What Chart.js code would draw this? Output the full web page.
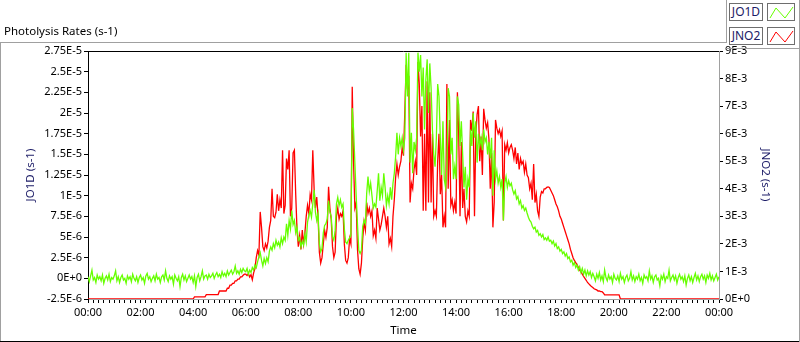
<!DOCTYPE html>
<html><head><meta charset="utf-8">
<script src="https://cdn.jsdelivr.net/npm/chart.js@4/dist/chart.umd.min.js"></script>
<style>
html,body{margin:0;padding:0;background:#fff;}
#wrap{position:relative;width:800px;height:342px;overflow:hidden;font-family:"Noto Sans",sans-serif;}
#c{position:absolute;left:0;top:0;}
.ln{position:absolute;background:#a0a0a0;}
#title{position:absolute;left:4px;top:24px;font-size:11.5px;line-height:14px;color:#000;white-space:nowrap;}
.lbox{position:absolute;box-sizing:border-box;border:1px solid #6e6e6e;background:#fff;font-size:12px;line-height:16px;text-align:center;color:#1b1b66;}
.ibox{position:absolute;box-sizing:border-box;border:1px solid #6e6e6e;background:#fff;}
</style></head><body>
<div id="wrap">
  <canvas id="c" width="800" height="342"></canvas>
  <div class="ln" style="left:0;top:42px;width:726px;height:1px"></div>
  <div class="ln" style="left:0;top:42px;width:1px;height:300px"></div>
  <div class="ln" style="left:0;top:341px;width:799px;height:1px;background:#000"></div>
  <div class="ln" style="left:726px;top:0;width:1px;height:43px"></div>
  <div class="ln" style="left:799px;top:0;width:1px;height:342px"></div>
  <div class="ln" style="left:726px;top:48px;width:74px;height:1px"></div>
  <div id="title">Photolysis Rates (s-1)</div>
  <div class="lbox" style="left:729px;top:3px;width:34px;height:18px">JO1D</div>
  <div class="ibox" style="left:767px;top:3px;width:28px;height:18px"><svg width="26" height="16" style="position:absolute;left:0;top:0"><polyline points="2,14 8,4 17,14 25,3" fill="none" stroke="#66ff00" stroke-width="1"/></svg></div>
  <div class="lbox" style="left:729px;top:27px;width:34px;height:18px">JNO2</div>
  <div class="ibox" style="left:767px;top:27px;width:28px;height:18px"><svg width="26" height="16" style="position:absolute;left:0;top:0"><polyline points="2,14 8,4 17,14 25,3" fill="none" stroke="#ff0000" stroke-width="1"/></svg></div>
</div>
<script>
// sampling interval of both series, minutes from 00:00 (values run 00:00 .. 24:00)
const STEP_MIN = 3;
// JO1D photolysis rate, in units of 1e-6 s-1
const JO1D_UNIT = 1e-6;
const jo1d = [
// 00:00
0.2,-0.4,0.3,1.0,-0.2,0.1,-0.5,0.4,-0.1,0.2,
-0.3,0.4,-0.6,0.0,0.3,-0.2,0.5,-0.4,0.1,-0.1,
0.3,0.9,-0.3,0.2,-0.5,0.1,0.4,-0.2,0.0,-0.6,
0.3,-0.1,0.2,-0.4,0.5,0.0,-0.3,0.2,-0.5,0.1,
0.4,-0.2,0.1,-0.6,0.3,0.6,-0.1,0.2,-0.4,0.0,
0.3,-0.3,0.5,-0.1,0.1,-0.5,0.2,0.4,-0.2,0.9,
0.0,-0.4,0.3,-0.1,0.2,-0.7,0.4,0.0,-0.3,0.2,
-1.0,0.1,0.5,-0.2,0.3,-0.4,0.0,0.4,-0.1,0.2,
-0.5,0.3,-1.0,0.1,0.5,-0.3,0.2,0.9,-0.1,0.3,
// 04:30
0.4,-0.1,0.5,0.1,0.3,0.6,0.0,0.4,0.7,0.2,
0.5,0.1,0.8,0.3,0.6,0.2,0.9,0.4,0.7,1.0,
0.5,0.8,1.5,0.6,0.9,0.5,1.1,0.7,1.2,0.9,
// 06:00
0.8,1.2,0.5,1.0,0.7,1.3,1.0,1.6,1.3,2.0,
2.6,3.1,2.2,1.5,2.4,1.8,2.5,2.0,3.3,3.8,
3.4,4.2,3.7,4.6,4.0,4.4,3.8,4.9,4.2,5.0,
4.6,6.6,5.2,7.0,6.0,8.2,6.5,7.0,5.5,6.2,
4.6,4.9,3.8,4.5,4.0,5.4,4.4,6.8,7.6,8.2,
7.4,9.0,10.7,8.0,7.0,7.8,4.2,3.2,3.6,5.5,
6.4,
// 09:03
6.6,7.2,9.4,8.0,7.5,5.0,4.6,5.8,9.0,9.8,
8.8,9.5,8.6,9.0,6.0,4.4,4.2,4.6,4.9,5.2,
20.6,18.0,14.0,10.0,6.5,3.4,3.0,3.4,6.3,7.0,
6.6,10.3,12.3,10.5,11.5,10.0,8.5,9.0,8.6,10.6,
12.7,9.4,11.0,10.0,12.7,11.0,8.8,10.0,9.0,11.0,
9.5,11.5,12.7,14.7,17.6,15.0,17.0,16.0,17.0,15.5,
// 12:03
17.0,27.3,22.0,27.3,14.0,17.6,12.7,16.5,15.5,17.0,
27.3,25.0,27.0,22.0,25.5,18.0,24.0,26.5,20.0,26.0,
23.0,18.0,15.0,13.5,17.0,23.5,22.0,17.0,12.5,19.0,
12.0,11.0,13.0,23.0,22.0,15.0,17.0,12.0,13.5,12.0,
22.0,21.0,16.0,19.0,15.0,11.0,13.5,9.5,12.0,11.0,
18.0,16.0,20.0,17.0,19.0,14.0,17.5,16.0,17.0,15.5,
18.0,16.5,17.0,15.0,16.5,14.5,17.0,10.0,15.5,12.0,
// 15:33
13.0,11.5,12.3,11.0,12.0,7.0,11.5,12.3,11.0,11.8,
11.2,11.5,10.7,10.2,10.6,9.6,9.9,9.0,9.4,8.5,
8.8,8.2,8.5,7.9,7.4,7.0,6.8,6.3,6.0,6.2,
5.6,5.8,5.2,5.4,5.0,5.3,4.7,4.9,4.6,5.0,
4.5,4.6,4.2,4.5,3.9,4.2,3.6,3.8,3.3,3.5,
3.0,3.2,2.7,3.0,2.4,2.6,2.0,2.2,1.6,1.9,
1.3,1.6,1.0,1.4,0.7,1.2,0.5,1.0,0.3,0.9,
0.4,0.8,0.1,0.6,
// 19:15
0.2,-0.3,0.5,0.0,0.7,-0.2,0.3,-0.4,1.0,0.1,
-0.3,0.4,-0.1,0.2,-0.5,0.5,0.0,-0.2,0.3,-0.4,
0.6,-0.1,0.2,-0.5,0.1,0.4,-0.3,0.0,0.8,-0.2,
0.3,-0.4,0.2,-0.1,0.5,-0.3,0.1,-0.6,0.4,0.0,
0.2,-0.3,0.9,-0.1,0.3,-0.5,0.2,0.4,-0.2,0.0,
-0.9,0.3,-0.1,0.5,-0.4,0.2,0.0,1.0,-0.3,0.1,
0.4,-0.2,0.3,-0.6,0.1,0.5,-0.1,0.2,-0.4,0.3,
-0.8,0.0,0.4,-0.3,0.2,-0.5,0.1,0.6,-0.2,0.3,
-0.4,0.2,0.5,-0.1,0.3,-0.5,0.4,0.0,0.6,-0.2,
0.3,-0.3,0.1,0.5,-0.2,0.2
];
// JNO2 photolysis rate, in units of 1e-3 s-1
const JNO2_UNIT = 1e-3;
const jno2 = [
// 00:00
0,0,0,0,0,0,0,0,0,0,
0,0,0,0,0,0,0,0,0,0,
0,0,0,0,0,0,0,0,0,0,
0,0,0,0,0,0,0,0,0,0,
0,0,0,0,0,0,0,0,0,0,
0,0,0,0,0,0,0,0,0,0,
0,0,0,0,0,0,0,0,0,0,
0,0,0,0,0,0,0,0,0,0,
0,
// 04:03
0.08,0.08,0.08,0.08,0.08,0.08,0.08,0.08,0.08,
0.16,0.16,0.16,0.16,0.16,0.16,0.16,0.16,0.16,0.16,
// 05:00
0.29,0.29,0.29,0.29,0.29,0.29,0.39,0.39,0.5,0.5,
0.57,0.57,0.66,0.66,0.72,0.72,0.8,0.8,0.86,0.9,
// 06:00
0.9,0.85,0.92,0.8,0.88,0.7,0.95,1.1,1.5,1.76,
1.6,3.16,2.6,1.9,1.76,2.0,1.85,2.1,2.6,2.85,
4.0,3.0,2.95,3.15,3.8,3.2,3.6,3.3,5.4,3.1,
3.4,5.1,4.7,5.4,3.0,3.3,5.3,5.4,3.8,2.5,
1.9,2.3,1.8,2.5,2.0,2.4,3.0,3.4,3.1,3.8,
3.6,5.4,4.0,3.3,3.7,3.0,1.7,1.3,1.5,2.0,
2.5,
// 09:03
2.24,2.6,4.07,3.3,2.9,1.9,1.5,1.7,3.0,3.3,
2.9,3.1,3.0,3.2,2.0,1.4,1.3,1.5,2.2,2.0,
7.7,5.0,3.3,3.5,1.8,1.1,0.9,1.3,2.2,2.8,
2.5,3.5,3.1,3.3,3.0,3.2,2.3,2.5,2.2,3.3,
2.9,2.5,2.7,3.0,3.3,3.0,2.6,3.0,2.0,2.2,
1.9,3.0,3.6,4.4,4.9,4.5,4.8,5.0,5.5,5.2,
// 12:03
6.8,8.5,7.6,8.1,3.5,4.2,4.0,4.7,5.0,4.5,
8.6,7.8,5.9,7.0,3.2,6.0,3.2,7.9,3.5,7.5,
3.5,6.0,3.0,3.2,3.0,5.0,6.0,3.8,4.5,2.6,
3.0,2.6,7.8,4.0,6.5,3.4,3.6,3.2,3.5,3.1,
7.5,6.0,3.0,5.7,3.3,4.0,3.0,2.8,3.2,3.0,
6.5,6.1,6.8,3.0,6.0,6.7,7.0,5.0,5.9,4.5,
6.9,6.5,6.2,6.4,5.8,4.0,5.3,2.6,3.5,6.5,
// 15:33
6.2,6.0,6.15,5.9,6.1,2.85,5.6,5.4,5.67,5.3,
5.5,5.6,5.4,5.1,5.5,4.9,5.3,4.7,5.1,4.9,
5.0,4.6,4.9,4.5,4.4,4.0,4.2,3.6,4.9,3.5,
3.8,3.2,3.0,3.7,3.9,3.85,4.0,4.0,4.05,4.07,
4.05,3.95,3.85,3.75,3.6,3.45,3.35,3.2,3.0,2.9,
2.75,2.6,2.45,2.3,2.15,2.0,1.8,1.65,1.5,1.4,
1.32,1.25,1.15,1.05,0.98,0.9,0.82,0.75,0.68,0.6,
0.55,0.5,0.45,0.42,0.37,0.35,0.33,0.29,0.29,0.27,
0.27,0.22,
// 19:39
0.15,0.15,0.15,0.15,0.15,0.15,0.15,0.15,0.15,0.15,0.15,0.15,
// 20:15
0,0,0,0,0,0,0,0,0,0,
0,0,0,0,0,0,0,0,0,0,
0,0,0,0,0,0,0,0,0,0,
0,0,0,0,0,0,0,0,0,0,
0,0,0,0,0,0,0,0,0,0,
0,0,0,0,0,0,0,0,0,0,
0,0,0,0,0,0,0,0,0,0,
0,0,0,0,0,0
];
// axis tick labels
const timeTickLabels = ['00:00','02:00','04:00','06:00','08:00','10:00','12:00','14:00','16:00','18:00','20:00','22:00','00:00'];
const TIME_MINOR_STEP = 12; // minutes between minor ticks
const jo1dTickLabels = ['-2.5E-6','0E+0','2.5E-6','5E-6','7.5E-6','1E-5','1.25E-5','1.5E-5','1.75E-5','2E-5','2.25E-5','2.5E-5','2.75E-5'];
const jno2TickLabels = ['0E+0','1E-3','2E-3','3E-3','4E-3','5E-3','6E-3','7E-3','8E-3','9E-3'];

const FONT = '"Noto Sans", sans-serif';
const jo1dTickValues = jo1dTickLabels.map(Number);
const jno2TickValues = jno2TickLabels.map(Number);
const timeMax = (timeTickLabels.length - 1) * 120;

const framePlugin = {
  id: 'frame',
  afterDraw(chart) {
    const {ctx, chartArea: a} = chart;
    ctx.save();
    ctx.strokeStyle = '#000';
    ctx.lineWidth = 1;
    ctx.beginPath();
    ctx.moveTo(a.left, Math.round(a.top) + 0.5);
    ctx.lineTo(a.right, Math.round(a.top) + 0.5);
    ctx.stroke();
    ctx.restore();
  }
};

new Chart(document.getElementById('c'), {
  type: 'line',
  data: {
    datasets: [
      {label: 'JO1D', data: jo1d.map((v, i) => ({x: i * STEP_MIN, y: v * JO1D_UNIT})), yAxisID: 'yL',
       borderColor: '#66ff00', borderWidth: 1.3, pointRadius: 0, fill: false, tension: 0},
      {label: 'JNO2', data: jno2.map((v, i) => ({x: i * STEP_MIN, y: v * JNO2_UNIT})), yAxisID: 'yR',
       borderColor: '#ff0000', borderWidth: 1.3, pointRadius: 0, fill: false, tension: 0}
    ]
  },
  options: {
    responsive: false,
    animation: false,
    events: [],
    layout: {padding: {top: 51, left: 0, right: 0, bottom: 0}},
    plugins: {legend: {display: false}, tooltip: {enabled: false}},
    scales: {
      x: {
        type: 'linear', min: 0, max: timeMax,
        afterBuildTicks: s => {
          const t = [];
          for (let m = 0; m <= timeMax; m += TIME_MINOR_STEP) t.push({value: m});
          s.ticks = t;
        },
        afterFit: s => { s.height = 43; },
        grid: {drawOnChartArea: false, drawTicks: true, tickLength: 4, color: '#000'},
        border: {display: true, color: '#a0a0a0', width: 1},
        ticks: {autoSkip: false, maxRotation: 0, padding: 3, color: '#000', font: {family: FONT, size: 11},
          callback: v => (v % 120 === 0 ? timeTickLabels[v / 120] : '')},
        title: {display: true, text: 'Time', color: '#000', font: {family: FONT, size: 11.5}, padding: {top: 0, bottom: 4}}
      },
      yL: {
        position: 'left', min: jo1dTickValues[0], max: jo1dTickValues[jo1dTickValues.length - 1],
        afterBuildTicks: s => { s.ticks = jo1dTickValues.map(v => ({value: v})); },
        afterFit: s => { s.width = 88; },
        grid: {drawOnChartArea: false, drawTicks: true, tickLength: 4, color: '#000'},
        border: {display: true, color: '#000', width: 1},
        ticks: {padding: 2, color: '#000', font: {family: FONT, size: 11}, callback: (v, i) => jo1dTickLabels[i]},
        title: {display: true, text: 'JO1D (s-1)', color: '#1b1b66', font: {family: FONT, size: 11.5}, padding: {top: 24, bottom: 0}}
      },
      yR: {
        position: 'right', min: 0, max: jno2TickValues[jno2TickValues.length - 1],
        afterBuildTicks: s => { s.ticks = jno2TickValues.map(v => ({value: v})); },
        afterFit: s => { s.width = 81; },
        grid: {drawOnChartArea: false, drawTicks: true, tickLength: 4, color: '#000'},
        border: {display: true, color: '#a0a0a0', width: 1},
        ticks: {padding: 2, color: '#000', font: {family: FONT, size: 11}, callback: (v, i) => jno2TickLabels[i]},
        title: {display: true, text: 'JNO2 (s-1)', color: '#1b1b66', font: {family: FONT, size: 11.5}, padding: {top: 28, bottom: 0}}
      }
    }
  },
  plugins: [framePlugin]
});
</script>
</body></html>
